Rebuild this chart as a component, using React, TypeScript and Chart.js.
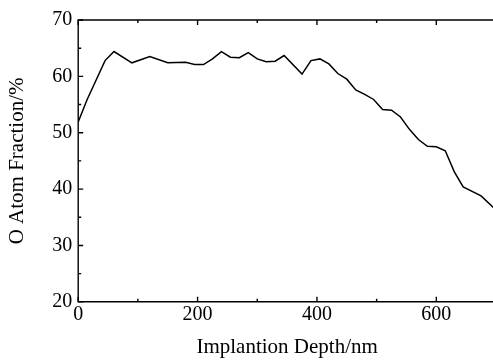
import React, { useEffect, useRef } from "react";
import { Chart, registerables } from "chart.js";

Chart.register(...registerables);

const depthNm = [0, 15, 45, 60, 90, 120, 150, 180, 195, 210, 225, 240, 255, 270, 285, 300, 315, 330, 345, 375, 390, 405, 420, 435, 450, 465, 480, 495, 510, 525, 540, 555, 570, 585, 600, 615, 630, 645, 675, 700];
const oFraction = [51.9, 55.9, 62.8, 64.4, 62.4, 63.5, 62.4, 62.5, 62.1, 62.1, 63.1, 64.4, 63.4, 63.3, 64.2, 63.1, 62.6, 62.7, 63.7, 60.4, 62.8, 63.1, 62.2, 60.5, 59.5, 57.6, 56.8, 55.9, 54.1, 54.0, 52.8, 50.6, 48.8, 47.6, 47.5, 46.8, 43.1, 40.4, 38.8, 36.3];

const xMajor = [0, 200, 400, 600];
const xMinor = [100, 300, 500, 700];
const yMajor = [20, 30, 40, 50, 60, 70];
const yMinor = [25, 35, 45, 55, 65];

const FONT = "'Liberation Serif', 'Times New Roman', serif";

const framePlugin = {
  id: "frame",
  afterDatasetsDraw(chart: any) {
    const { ctx, chartArea, scales } = chart;
    const { left, right, top, bottom } = chartArea;
    ctx.save();
    ctx.strokeStyle = "#000";
    ctx.lineWidth = 1.4;
    ctx.beginPath();
    ctx.rect(left, top, right - left, bottom - top);
    ctx.stroke();
    ctx.beginPath();
    const xs = scales.x;
    const ys = scales.y;
    const tick = (v: number, len: number) => {
      const px = xs.getPixelForValue(v);
      ctx.moveTo(px, bottom);
      ctx.lineTo(px, bottom - len);
      ctx.moveTo(px, top);
      ctx.lineTo(px, top + len);
    };
    xMajor.forEach((v) => tick(v, 5));
    xMinor.forEach((v) => tick(v, 3));
    const ytick = (v: number, len: number) => {
      const py = ys.getPixelForValue(v);
      ctx.moveTo(left, py);
      ctx.lineTo(left + len, py);
    };
    yMajor.forEach((v) => ytick(v, 5));
    yMinor.forEach((v) => ytick(v, 3));
    ctx.stroke();
    ctx.restore();
  },
};

export default function App() {
  const ref = useRef<HTMLCanvasElement | null>(null);
  useEffect(() => {
    if (!ref.current) return;
    const chart = new Chart(ref.current, {
      type: "line",
      data: {
        datasets: [
          {
            data: depthNm.map((x, i) => ({ x, y: oFraction[i] })),
            borderColor: "#000",
            borderWidth: 1.5,
            pointRadius: 0,
            fill: false,
            tension: 0,
          },
        ],
      },
      options: {
        animation: false,
        responsive: false,
        devicePixelRatio: 1,
        layout: { padding: { left: 0, right: 0, top: 20, bottom: 0 } },
        plugins: { legend: { display: false }, tooltip: { enabled: false } },
        scales: {
          x: {
            type: "linear",
            min: 0,
            max: 700,
            grid: { display: false, drawTicks: false },
            border: { display: false },
            ticks: {
              stepSize: 200,
              includeBounds: false,
              padding: 1,
              color: "#000",
              maxRotation: 0,
              font: { family: FONT, size: 20 },
            },
            title: {
              display: true,
              text: "Implantion Depth/nm",
              color: "#000",
              font: { family: FONT, size: 21 },
              padding: { top: 7, bottom: 0 },
            },
          },
          y: {
            min: 20,
            max: 70,
            grid: { display: false, drawTicks: false },
            border: { display: false },
            ticks: {
              stepSize: 10,
              padding: 6,
              color: "#000",
              font: { family: FONT, size: 20 },
            },
            title: {
              display: true,
              text: "O Atom Fraction/%",
              color: "#000",
              font: { family: FONT, size: 21 },
              padding: { top: 5, bottom: 16 },
            },
          },
        },
      },
      plugins: [framePlugin],
    });
    return () => chart.destroy();
  }, []);
  return (
    <div style={{ position: "fixed", left: 0, top: 0, width: 493, height: 360, overflow: "hidden", background: "#fff" }}>
      <canvas ref={ref} width={496} height={360} style={{ display: "block" }} />
    </div>
  );
}
